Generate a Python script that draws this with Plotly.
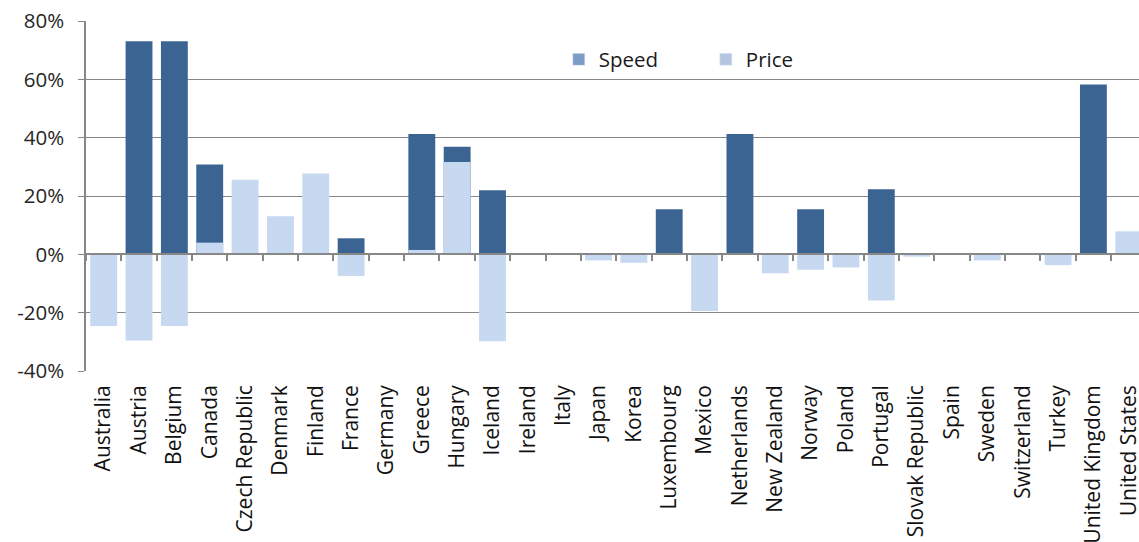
import plotly.graph_objects as go

# OECD countries along the category axis
countries = [
    "Australia", "Austria", "Belgium", "Canada", "Czech Republic", "Denmark",
    "Finland", "France", "Germany", "Greece", "Hungary", "Iceland", "Ireland",
    "Italy", "Japan", "Korea", "Luxembourg", "Mexico", "Netherlands",
    "New Zealand", "Norway", "Poland", "Portugal", "Slovak Republic", "Spain",
    "Sweden", "Switzerland", "Turkey", "United Kingdom", "United States",
]

# Change in advertised speed (%)
speed = [
    0, 73.1, 73.1, 30.8, 0, 0,
    0, 5.5, 0, 41.3, 36.9, 22.0, 0,
    0, 0, 0, 15.5, 0, 41.3,
    0, 15.5, 0, 22.3, 0, 0,
    0, 0, 0, 58.2, 0,
]

# Change in price (%)
price = [
    -24.6, -29.5, -24.6, 4.0, 25.6, 13.1,
    27.7, -7.4, 0, 1.5, 31.7, -29.8, 0,
    0, -2.1, -2.9, 0, -19.4, 0,
    -6.5, -5.3, -4.5, -15.8, -0.8, 0,
    -2.1, 0, -3.7, 0, 7.9,
]

y_ticks = [-40, -20, 0, 20, 40, 60, 80]
y_tick_text = ["-40%", "-20%", "0%", "20%", "40%", "60%", "80%"]

SPEED_COLOR = "#3C6493"
PRICE_COLOR = "#C6D9F0"
GRID = "#878787"
FONT = "Open Sans"

fig = go.Figure()

fig.add_trace(go.Bar(
    x=countries, y=speed, name="Speed", showlegend=False,
    marker=dict(color=SPEED_COLOR, line=dict(width=0)),
    width=0.76,
))
fig.add_trace(go.Bar(
    x=countries, y=price, name="Price", showlegend=False,
    marker=dict(color=PRICE_COLOR, line=dict(width=0)),
    width=0.76,
))

# legend entries with the lighter swatch tones
fig.add_trace(go.Bar(x=[None], y=[None], name="Speed",
                     marker=dict(color="#7F9CC9")))
fig.add_trace(go.Bar(x=[None], y=[None], name="Price",
                     marker=dict(color="#B4C5E2")))

# carrier trace for the zero-line axis with boundary tick marks
fig.add_trace(go.Scatter(
    x=list(range(len(countries))), y=[None] * len(countries),
    xaxis="x2", mode="lines", showlegend=False, hoverinfo="skip",
))

x_end = 29.29

fig.update_layout(
    width=1139, height=542,
    margin=dict(l=86, r=0, t=21, b=171, autoexpand=False),
    paper_bgcolor="white", plot_bgcolor="white",
    barmode="overlay",
    font=dict(family=FONT, size=18, color="#1a1a1a"),
    xaxis=dict(
        type="category", range=[-0.5, x_end], automargin=False,
        tickangle=-90, ticks="", showgrid=False, showline=False,
        zeroline=False, tickfont=dict(size=21, family=FONT, color="#111111"),
        ticklabelstandoff=9,
    ),
    xaxis2=dict(
        type="linear", overlaying="x", anchor="free", position=1 / 3,
        range=[-0.5, x_end], tick0=-0.5, dtick=1,
        ticks="outside", ticklen=6, tickwidth=1.5, tickcolor=GRID,
        showticklabels=False, showgrid=False, zeroline=False,
        showline=True, linecolor=GRID, linewidth=1.5,
    ),
    yaxis=dict(
        range=[-40, 80], tickmode="array", tickvals=y_ticks, automargin=False,
        ticktext=y_tick_text, showgrid=True, gridcolor=GRID, gridwidth=1.3,
        zeroline=False, showline=True, linecolor=GRID, linewidth=1.5,
        ticks="outside", ticklen=6, tickcolor=GRID, tickwidth=1.3,
        tickfont=dict(size=20.5, family=FONT, color="#262626"),
        ticklabelstandoff=10,
    ),
    legend=dict(
        orientation="h", x=0.449, y=0.89, xanchor="left", yanchor="middle",
        font=dict(size=20.5, family=FONT, color="#1a1a1a"),
        entrywidth=102, entrywidthmode="pixels",
        bgcolor="rgba(0,0,0,0)", itemclick=False,
    ),
    bargap=0.24,
)

fig.write_html("out.html")
